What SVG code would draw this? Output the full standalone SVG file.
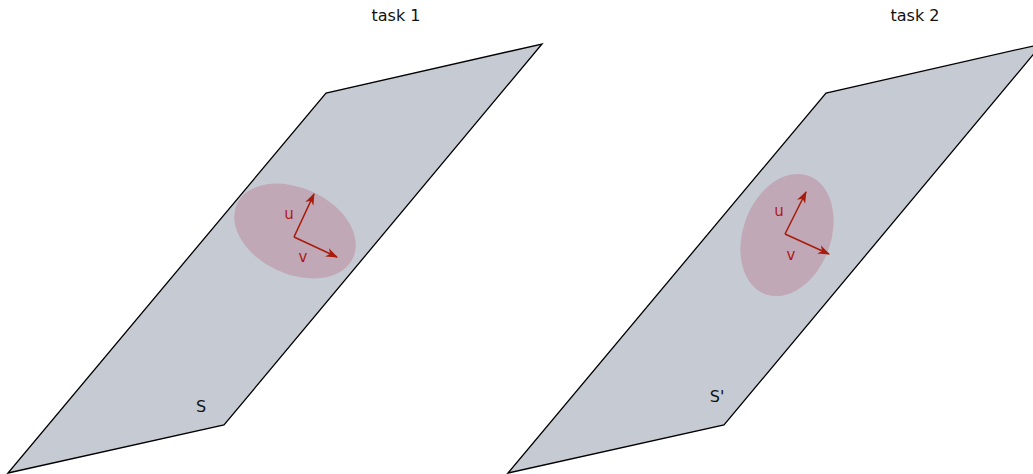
<svg xmlns="http://www.w3.org/2000/svg" width="1033" height="474" viewBox="0 0 1033 474">
<style>
.plane{fill:#c5cad3;stroke:#000;stroke-width:1.3;stroke-linejoin:miter}
.blob{fill:#c1a8b6}
.vec{stroke:#a81c0c;stroke-width:1.6;fill:none}
.vlab{font-family:"DejaVu Sans",sans-serif;font-size:15px;fill:#b01818;text-anchor:middle}
.lab{font-family:"DejaVu Sans",sans-serif;font-size:16px;fill:#111;text-anchor:middle}
</style>
<defs>
<marker id="ah" viewBox="0 0 12 12" refX="11" refY="6" markerWidth="12" markerHeight="12" markerUnits="userSpaceOnUse" orient="auto">
<path d="M0,1.5 L12,6 L0,10.5 L3.5,6 Z" fill="#a81c0c"/>
</marker>
</defs>
<g id="task1">
<polygon class="plane" points="8,473 224,425 542,44 326,93"/>
<ellipse class="blob" cx="295" cy="231" rx="64" ry="43" transform="rotate(25 295 231)"/>
<text class="lab" x="396" y="21">task 1</text>
<text class="lab" x="201" y="412">S</text>
</g>
<g id="task2">
<polygon class="plane" points="508,473 724,425 1042,44 826,93"/>
<ellipse class="blob" cx="787" cy="235" rx="44" ry="63" transform="rotate(20 787 235)"/>
<text class="lab" x="915" y="21">task 2</text>
<text class="lab" x="717" y="402">S'</text>
</g>
<g id="connectors">
<line class="vec" x1="294" y1="237" x2="314" y2="194" marker-end="url(#ah)"/>
<line class="vec" x1="294" y1="237" x2="337" y2="257" marker-end="url(#ah)"/>
<line class="vec" x1="785" y1="234" x2="806" y2="192" marker-end="url(#ah)"/>
<line class="vec" x1="785" y1="234" x2="829" y2="254" marker-end="url(#ah)"/>
</g>
<g id="labels">
<text class="vlab" x="289" y="219">u</text>
<text class="vlab" x="303" y="262">v</text>
<text class="vlab" x="779" y="216">u</text>
<text class="vlab" x="791" y="260">v</text>
</g>
</svg>
